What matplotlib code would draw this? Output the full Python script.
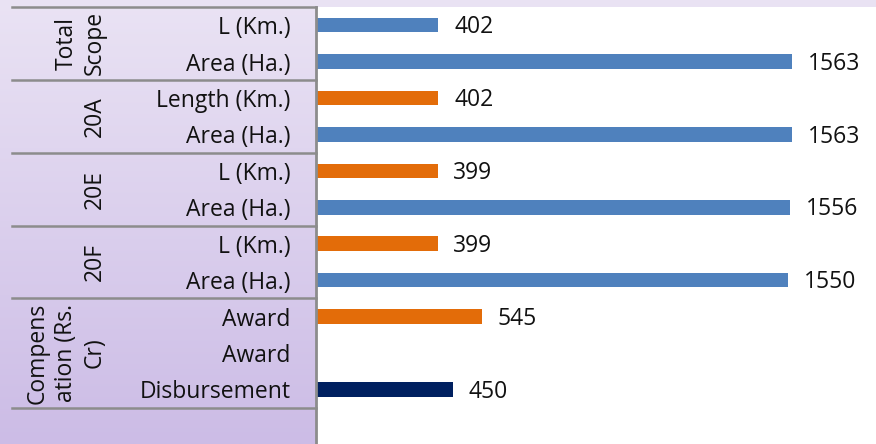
import matplotlib.pyplot as plt
import matplotlib.transforms as mtransforms
import numpy as np

plt.rcParams['font.family'] = ['Open Sans', 'DejaVu Sans']

# data
categories = ['L (Km.)', 'Area (Ha.)', 'Length (Km.)', 'Area (Ha.)', 'L (Km.)', 'Area (Ha.)',
              'L (Km.)', 'Area (Ha.)', 'Award', 'Award', 'Disbursement', '']
values = [402, 1563, 402, 1563, 399, 1556, 399, 1550, 545, None, 450, None]
bar_colors = ['#4F81BD', '#4F81BD', '#E36C09', '#4F81BD', '#E36C09', '#4F81BD',
              '#E36C09', '#4F81BD', '#E36C09', '#E36C09', '#002060', '#4F81BD']
groups = ['Total\nScope', '20A', '20E', '20F', 'Compens\nation (Rs.\nCr)']
group_bounds = [(-0.5, 1.5), (1.5, 3.5), (3.5, 5.5), (5.5, 7.5), (7.5, 10.5)]

W, H = 876, 444
fs = 16.5
fig = plt.figure(figsize=(W / 100, H / 100), dpi=100)

# lavender gradient background
bg = fig.add_axes([0, 0, 1, 1], zorder=0)
grad = np.linspace(0, 1, 256).reshape(-1, 1)
top = np.array([0xEA, 0xE3, 0xF4]) / 255
bot = np.array([0xCC, 0xBC, 0xE6]) / 255
img = top + (bot - top) * grad[:, :, None]
bg.imshow(img, aspect='auto', extent=[0, 1, 0, 1])
bg.axis('off')

ax = fig.add_axes([316 / W, 0, 1 - 316 / W, (H - 7) / H], zorder=1)
ax.set_facecolor('white')

y = np.arange(len(categories))
for i, v in enumerate(values):
    if v is None:
        continue
    ax.barh(y[i], v, height=0.4, color=bar_colors[i])
    ax.text(v + 52, y[i] + 0.06, str(v), va='center', ha='left', fontsize=fs, color='#111111')

ax.set_xlim(0, 1838)
ax.set_ylim(len(categories) - 0.5, -0.5)
ax.set_xticks([])
ax.set_yticks(y)
ax.set_yticklabels(categories, fontsize=fs, color='#111111')
ax.tick_params(axis='y', length=0, pad=18.5)
for s in ['top', 'right', 'bottom']:
    ax.spines[s].set_visible(False)
ax.spines['left'].set_color('#8c8c8c')
ax.spines['left'].set_linewidth(2)

# group separators and labels in the left panel
trans = mtransforms.blended_transform_factory(ax.transAxes, ax.transData)
x0 = -(316 - 12) / (W - 316)
lines = sorted(set([b for gb in group_bounds for b in gb]))
for b in lines:
    ax.plot([x0, 0], [b, b], color='#8c8c8c', lw=1.8, transform=trans, clip_on=False)

xr = -(316 - 107) / (W - 316)
for g, (a, b) in zip(groups, group_bounds):
    ax.text(xr, (a + b) / 2, g, rotation=90, ha='right', va='center', multialignment='center',
            fontsize=fs, color='#111111', transform=trans, linespacing=1.25)

fig.savefig('out.png', dpi=100)
